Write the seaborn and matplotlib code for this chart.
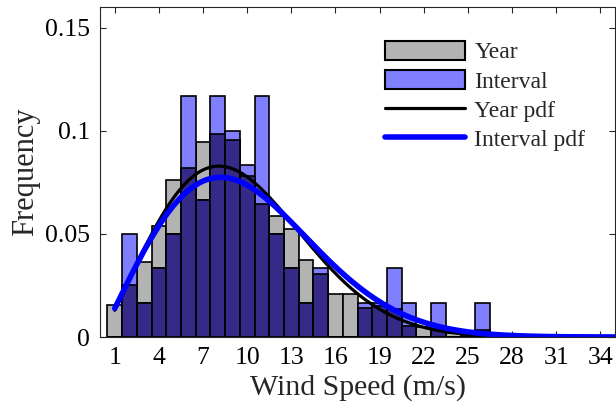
import numpy as np
import pandas as pd
import matplotlib
matplotlib.use("Agg")
import matplotlib.pyplot as plt
import seaborn as sns

# Wind speed bins (m/s), centred on integers
bin_centers = np.arange(1, 35)

# Relative frequency of wind speeds over the whole year
year_freq = [0.0153, 0.0250, 0.0366, 0.0540, 0.0760, 0.0820, 0.0945, 0.0985,
             0.0953, 0.0780, 0.0647, 0.0586, 0.0524, 0.0374, 0.0306, 0.0207,
             0.0207, 0.0142, 0.0150, 0.0135, 0.0052, 0.0047, 0.0037, 0.0018,
             0.0010, 0.0034, 0, 0, 0, 0, 0, 0, 0, 0]

# Relative frequency of wind speeds within the interval (60 samples)
interval_freq = [0, 3/60, 1/60, 2/60, 3/60, 7/60, 4/60, 7/60, 6/60, 5/60,
                 7/60, 3/60, 2/60, 1/60, 2/60, 0, 0, 1/60, 1/60, 2/60, 1/60,
                 0, 1/60, 0, 0, 1/60, 0, 0, 0, 0, 0, 0, 0, 0]

# Fitted Weibull parameters (shape k, scale c)
year_k, year_c = 2.14, 10.84
interval_k, interval_c = 2.06, 11.30

x_ticks = [1, 4, 7, 10, 13, 16, 19, 22, 25, 28, 31, 34]
y_ticks = [0, 0.05, 0.1, 0.15]
y_tick_labels = ["0", "0.05", "0.1", "0.15"]
legend_order = ["Year", "Interval", "Year pdf", "Interval pdf"]


def weibull_pdf(x, k, c):
    return (k / c) * (x / c) ** (k - 1) * np.exp(-(x / c) ** k)


sns.set_style("ticks")
plt.rcParams["font.family"] = ["Liberation Serif", "DejaVu Serif"]

fig = plt.figure(figsize=(6.16, 4.17), dpi=100)
ax = fig.add_axes([100 / 616, 1 - 337 / 417, 515 / 616, 330 / 417])

hist_df = pd.DataFrame({
    "speed": bin_centers,
    "year": year_freq,
    "interval": interval_freq,
})
hist_df["both"] = np.minimum(hist_df["year"], hist_df["interval"])

bar_kw = dict(discrete=True, shrink=1.0, edgecolor="black", linewidth=1.2,
              alpha=1.0, ax=ax)
sns.histplot(data=hist_df, x="speed", weights="year", color="#b3b3b3",
             label="Year", **bar_kw)
sns.histplot(data=hist_df, x="speed", weights="interval", color="#8080ff",
             label="Interval", **bar_kw)
sns.histplot(data=hist_df, x="speed", weights="both", color="#352a87", **bar_kw)

xs = np.linspace(1, 35, 500)
sns.lineplot(x=xs, y=weibull_pdf(xs, year_k, year_c), color="black",
             linewidth=2.3, ax=ax, label="Year pdf")
sns.lineplot(x=xs, y=weibull_pdf(xs, interval_k, interval_c), color="#0000ff",
             linewidth=4.0, ax=ax, label="Interval pdf")

ax.set_xlim(0, 35)
ax.set_ylim(0, 0.16)
ax.set_xticks(x_ticks)
ax.set_xticklabels([str(t) for t in x_ticks])
ax.set_yticks(y_ticks)
ax.set_yticklabels(y_tick_labels)
ax.tick_params(direction="in", length=4, width=0.8, labelsize=18.5,
               top=True, right=True, colors="#262626", labelcolor="black", pad=7)
for s in ax.spines.values():
    s.set_visible(True)
    s.set_color("#262626")
    s.set_linewidth(0.8)

ax.set_xlabel("Wind Speed (m/s)", fontsize=21.5, labelpad=4)
ax.set_ylabel("Frequency", fontsize=22, labelpad=4)

handles, labels = ax.get_legend_handles_labels()
by_label = dict(zip(labels, handles))
leg = ax.legend([by_label[k] for k in legend_order], legend_order,
                loc="upper left", bbox_to_anchor=(0.516, 0.955), frameon=False,
                fontsize=17, handlelength=3.4, handleheight=0.85,
                handletextpad=0.4, labelspacing=0.28, borderpad=0.3)
for h in leg.legend_handles:
    if isinstance(h, matplotlib.patches.Rectangle):
        h.set_edgecolor("black")
        h.set_linewidth(1.5)

fig.savefig("out.png", dpi=100)
